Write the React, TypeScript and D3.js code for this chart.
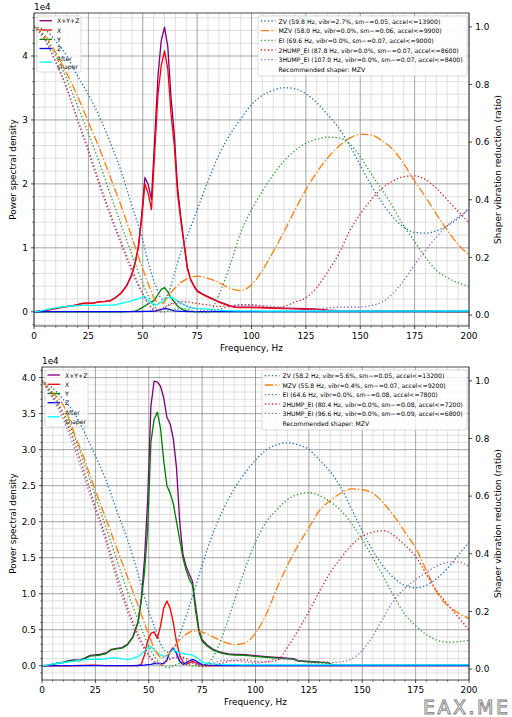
import React from "react";
import * as d3 from "d3";

// ---------- shared ----------
const shaperNames = ["ZV", "MZV", "EI", "2HUMP_EI", "3HUMP_EI"];
const shaperColors = ["#1f77b4", "#ff7f0e", "#2ca02c", "#d62728", "#9467bd"];
const recommendedShaper = "MZV";
const psdLabels = ["X+Y+Z", "X", "Y", "Z", "After\nshaper"];
const psdColors = ["#800080", "#ff0000", "#008000", "#0000ff", "#00ffff"];
const xTicks = [0, 25, 50, 75, 100, 125, 150, 175, 200];
const rightTicks = [0.0, 0.2, 0.4, 0.6, 0.8, 1.0];

const shaperFreqs = [
  0, 5, 10, 15, 20, 25, 30, 35, 40, 45,
  50, 53, 56, 59, 62, 65, 68, 71, 75, 80,
  85, 90, 95, 100, 105, 110, 115, 120, 125, 130,
  135, 140, 145, 150, 155, 160, 165, 170, 175, 180,
  185, 190, 195, 200,
];

// ---------- top chart ----------
const topShaperHz = [59.8, 58.0, 69.6, 87.8, 107.0];
const topVibr = [2.7, 0.0, 0.0, 0.0, 0.0];
const topSmooth = [0.05, 0.06, 0.07, 0.07, 0.07];
const topAccel = [13900, 9900, 9000, 8600, 8400];

const topPsdFreqs = [
  0, 2.5, 5, 7.5, 10, 12.5, 15, 17.5, 20, 22.5,
  25, 27.5, 30, 32.5, 35, 37.5, 40, 42.5, 45, 46.5,
  48, 49.5, 51, 52.5, 54, 55.5, 57, 58.5, 60, 61.5,
  63, 64.5, 66, 67.5, 69, 70.5, 72, 73.5, 75, 77.5,
  80, 82.5, 85, 87.5, 90, 92.5, 95, 97.5, 100, 105,
  110, 115, 120, 125, 130, 135, 140, 150, 160, 170,
  180, 190, 200,
];
const topPsdXYZ = [
  0, 0.012, 0.023, 0.038, 0.053, 0.068, 0.083, 0.093, 0.113, 0.133,
  0.133, 0.138, 0.158, 0.163, 0.173, 0.223, 0.293, 0.403, 0.585, 0.77,
  1.03, 1.51, 2.1, 1.99, 1.76, 2.7, 3.69, 4.24, 4.45, 4.15,
  3.35, 2.77, 1.95, 1.48, 1.08, 0.695, 0.51, 0.41, 0.33, 0.277,
  0.237, 0.197, 0.157, 0.127, 0.097, 0.077, 0.072, 0.072, 0.072, 0.067,
  0.062, 0.057, 0.052, 0.047, 0.042, 0.027, 0.017, 0.015, 0.013, 0.012,
  0.012, 0.011, 0.011,
];
const topPsdX = [
  0, 0.01, 0.02, 0.035, 0.05, 0.065, 0.08, 0.09, 0.11, 0.13,
  0.13, 0.135, 0.155, 0.16, 0.17, 0.22, 0.29, 0.4, 0.58, 0.76,
  1.0, 1.45, 2.0, 1.85, 1.6, 2.5, 3.4, 3.85, 4.08, 3.8,
  3.1, 2.6, 1.85, 1.42, 1.05, 0.68, 0.5, 0.4, 0.32, 0.27,
  0.23, 0.19, 0.15, 0.12, 0.09, 0.07, 0.065, 0.065, 0.065, 0.06,
  0.055, 0.05, 0.045, 0.04, 0.035, 0.02, 0.01, 0.008, 0.006, 0.005,
  0.005, 0.004, 0.004,
];
const topPsdY = [
  0, 0, 0, 0, 0, 0, 0, 0, 0, 0,
  0, 0, 0, 0, 0, 0, 0, 0.002, 0.005, 0.01,
  0.03, 0.06, 0.09, 0.13, 0.15, 0.19, 0.27, 0.35, 0.38, 0.31,
  0.22, 0.15, 0.09, 0.05, 0.025, 0.01, 0.005, 0.003, 0.002, 0.002,
  0.002, 0.002, 0.002, 0.002, 0.002, 0.002, 0.002, 0.002, 0.002, 0.002,
  0.002, 0.002, 0.002, 0.002, 0.002, 0.002, 0.002, 0.002, 0.002, 0.002,
  0.002, 0.002, 0.002,
];
const topPsdZ = [
  0, 0, 0.002, 0.002, 0.002, 0.002, 0.002, 0.002, 0.002, 0.002,
  0.002, 0.002, 0.002, 0.002, 0.002, 0.002, 0.002, 0.002, 0.002, 0.002,
  0.003, 0.004, 0.005, 0.006, 0.008, 0.01, 0.02, 0.035, 0.05, 0.045,
  0.03, 0.015, 0.01, 0.006, 0.005, 0.004, 0.003, 0.003, 0.003, 0.003,
  0.003, 0.003, 0.003, 0.003, 0.003, 0.003, 0.003, 0.003, 0.003, 0.003,
  0.003, 0.003, 0.003, 0.003, 0.003, 0.003, 0.003, 0.003, 0.003, 0.003,
  0.003, 0.003, 0.003,
];
const topPsdAfter = [
  0, 0.01, 0.03, 0.045, 0.06, 0.075, 0.085, 0.09, 0.095, 0.1,
  0.1, 0.1, 0.1, 0.105, 0.105, 0.11, 0.13, 0.15, 0.17, 0.19,
  0.2, 0.22, 0.24, 0.18, 0.13, 0.11, 0.12, 0.15, 0.19, 0.22,
  0.23, 0.2, 0.17, 0.14, 0.11, 0.08, 0.065, 0.055, 0.05, 0.045,
  0.04, 0.03, 0.025, 0.02, 0.018, 0.016, 0.015, 0.014, 0.013, 0.012,
  0.012, 0.012, 0.012, 0.012, 0.012, 0.012, 0.012, 0.012, 0.012, 0.012,
  0.012, 0.012, 0.012,
];

const topZV = [
  1.0, 0.99, 0.95, 0.9, 0.83, 0.765, 0.69, 0.6, 0.5, 0.38,
  0.26, 0.17, 0.1, 0.055, 0.08, 0.155, 0.23, 0.285, 0.365, 0.465,
  0.555, 0.625, 0.68, 0.73, 0.762, 0.78, 0.789, 0.785, 0.768, 0.737,
  0.695, 0.65, 0.59, 0.52, 0.45, 0.39, 0.34, 0.305, 0.287, 0.284,
  0.292, 0.31, 0.335, 0.37,
];
const topMZV = [
  1.0, 0.97, 0.91, 0.84, 0.76, 0.67, 0.58, 0.48, 0.38, 0.27,
  0.16, 0.1, 0.05, 0.04, 0.07, 0.095, 0.115, 0.128, 0.135, 0.127,
  0.113, 0.093, 0.085, 0.105, 0.155, 0.22, 0.29, 0.365, 0.435, 0.495,
  0.545, 0.585, 0.613, 0.628, 0.625, 0.605, 0.575, 0.525, 0.465, 0.41,
  0.35, 0.295, 0.245, 0.209,
];
const topEI = [
  1.0, 0.965, 0.9, 0.82, 0.725, 0.63, 0.53, 0.42, 0.315, 0.21,
  0.11, 0.06, 0.025, 0.01, 0.015, 0.02, 0.022, 0.02, 0.01, 0.008,
  0.07, 0.17, 0.285, 0.365, 0.43, 0.487, 0.535, 0.57, 0.596, 0.61,
  0.617, 0.615, 0.595, 0.55, 0.49, 0.435, 0.375, 0.31, 0.255, 0.2,
  0.155, 0.13, 0.112, 0.1,
];
const top2HUMP = [
  1.0, 0.955, 0.88, 0.79, 0.68, 0.575, 0.46, 0.355, 0.255, 0.16,
  0.075, 0.035, 0.015, 0.02, 0.035, 0.045, 0.047, 0.045, 0.04, 0.035,
  0.03, 0.032, 0.035, 0.035, 0.03, 0.025, 0.03, 0.045, 0.06, 0.095,
  0.15, 0.21, 0.29, 0.35, 0.4, 0.44, 0.465, 0.48, 0.483, 0.47,
  0.44, 0.4, 0.36, 0.32,
];
const top3HUMP = [
  1.0, 0.955, 0.875, 0.785, 0.675, 0.565, 0.45, 0.345, 0.245, 0.15,
  0.07, 0.035, 0.02, 0.025, 0.035, 0.04, 0.038, 0.03, 0.02, 0.015,
  0.02, 0.03, 0.035, 0.035, 0.033, 0.03, 0.025, 0.02, 0.018, 0.02,
  0.025, 0.028, 0.028, 0.028, 0.033, 0.045, 0.075, 0.12, 0.175, 0.225,
  0.27, 0.31, 0.34, 0.365,
];
const topLeftTicks = [0, 1, 2, 3, 4];
const topLeftTickLabels = ["0", "1", "2", "3", "4"];

// ---------- bottom chart ----------
const botShaperHz = [58.2, 55.8, 64.6, 80.4, 96.6];
const botVibr = [5.6, 0.4, 0.0, 0.0, 0.0];
const botSmooth = [0.05, 0.07, 0.08, 0.08, 0.09];
const botAccel = [13200, 9200, 7800, 7200, 6800];

const botPsdFreqs = [
  0, 2.5, 5, 7.5, 10, 12.5, 15, 17.5, 20, 22.5,
  25, 27.5, 30, 32.5, 35, 37.5, 40, 42.5, 45, 46.5,
  48, 49.5, 51, 52.5, 54, 55.5, 57, 58.5, 60, 61.5,
  63, 64.5, 66, 67.5, 69, 70.5, 72, 73.5, 75, 77.5,
  80, 82.5, 85, 87.5, 90, 92.5, 95, 97.5, 100, 105,
  110, 115, 118, 120, 125, 130, 134, 136, 150, 170,
  200,
];
const botPsdXYZ = [
  0, 0.007, 0.023, 0.04, 0.05, 0.07, 0.08, 0.077, 0.107, 0.145,
  0.152, 0.16, 0.177, 0.227, 0.242, 0.252, 0.298, 0.4, 0.61, 0.93,
  1.47, 2.3, 3.6, 3.95, 3.94, 3.88, 3.72, 3.45, 3.36, 3.15,
  2.75, 2.0, 1.55, 1.38, 1.27, 1.17, 0.82, 0.5, 0.36, 0.285,
  0.232, 0.2, 0.18, 0.165, 0.16, 0.157, 0.154, 0.147, 0.14, 0.128,
  0.117, 0.105, 0.1, 0.07, 0.06, 0.05, 0.045, 0.01, 0.008, 0.007,
  0.007,
];
const botPsdX = [
  0, 0, 0, 0, 0, 0, 0.002, 0.004, 0.006, 0.008,
  0.01, 0.006, 0.003, 0.002, 0.002, 0.002, 0.002, 0.002, 0.003, 0.02,
  0.15, 0.35, 0.45, 0.47, 0.38, 0.55, 0.8, 0.9, 0.8, 0.6,
  0.33, 0.15, 0.05, 0.02, 0.04, 0.06, 0.04, 0.02, 0.008, 0.004,
  0.003, 0.003, 0.003, 0.003, 0.003, 0.003, 0.003, 0.003, 0.003, 0.003,
  0.003, 0.003, 0.003, 0.003, 0.003, 0.003, 0.003, 0.003, 0.003, 0.003,
  0.003,
];
const botPsdY = [
  0, 0.005, 0.02, 0.035, 0.045, 0.065, 0.075, 0.07, 0.1, 0.135,
  0.14, 0.15, 0.17, 0.22, 0.235, 0.245, 0.29, 0.39, 0.6, 0.9,
  1.3, 1.9, 3.1, 3.42, 3.52, 3.3, 2.85, 2.5, 2.4, 2.25,
  2.0, 1.75, 1.5, 1.33, 1.2, 1.12, 0.75, 0.47, 0.34, 0.27,
  0.22, 0.19, 0.17, 0.155, 0.15, 0.148, 0.145, 0.138, 0.13, 0.118,
  0.107, 0.095, 0.088, 0.065, 0.056, 0.047, 0.042, 0.008, 0.006, 0.005,
  0.005,
];
const botPsdZ = [
  0, 0, 0.002, 0.002, 0.002, 0.002, 0.002, 0.002, 0.002, 0.002,
  0.002, 0.002, 0.002, 0.002, 0.002, 0.002, 0.002, 0.002, 0.004, 0.006,
  0.01, 0.015, 0.02, 0.03, 0.035, 0.03, 0.03, 0.08, 0.2, 0.25,
  0.17, 0.06, 0.02, 0.04, 0.07, 0.085, 0.07, 0.04, 0.015, 0.008,
  0.004, 0.004, 0.004, 0.004, 0.004, 0.004, 0.004, 0.004, 0.004, 0.004,
  0.004, 0.004, 0.004, 0.004, 0.004, 0.004, 0.004, 0.004, 0.004, 0.004,
  0.004,
];
const botPsdAfter = [
  0, 0.005, 0.025, 0.035, 0.045, 0.055, 0.065, 0.075, 0.085, 0.09,
  0.09, 0.09, 0.1, 0.11, 0.105, 0.095, 0.09, 0.1, 0.13, 0.16,
  0.2, 0.25, 0.27, 0.22, 0.18, 0.15, 0.13, 0.14, 0.18, 0.23,
  0.2, 0.18, 0.17, 0.16, 0.155, 0.15, 0.12, 0.09, 0.05, 0.035,
  0.025, 0.02, 0.018, 0.016, 0.015, 0.014, 0.013, 0.013, 0.012, 0.012,
  0.012, 0.012, 0.012, 0.012, 0.012, 0.012, 0.012, 0.012, 0.012, 0.012,
  0.012,
];

const botZV = [
  1.0, 0.975, 0.935, 0.89, 0.82, 0.74, 0.655, 0.55, 0.45, 0.33,
  0.2, 0.14, 0.08, 0.058, 0.075, 0.13, 0.195, 0.265, 0.36, 0.47,
  0.555, 0.625, 0.68, 0.725, 0.76, 0.778, 0.785, 0.778, 0.762, 0.725,
  0.685, 0.63, 0.555, 0.48, 0.41, 0.355, 0.315, 0.29, 0.282, 0.29,
  0.315, 0.35, 0.395, 0.44,
];
const botMZV = [
  1.0, 0.96, 0.915, 0.82, 0.725, 0.62, 0.52, 0.42, 0.32, 0.22,
  0.12, 0.065, 0.04, 0.05, 0.08, 0.105, 0.123, 0.132, 0.128, 0.112,
  0.095, 0.085, 0.09, 0.125, 0.19, 0.28, 0.36, 0.43, 0.49, 0.55,
  0.585, 0.61, 0.625, 0.622, 0.61, 0.575, 0.53, 0.475, 0.42, 0.343,
  0.265, 0.22, 0.195, 0.175,
];
const botEI = [
  1.0, 0.955, 0.89, 0.81, 0.71, 0.6, 0.49, 0.38, 0.27, 0.17,
  0.08, 0.04, 0.015, 0.005, 0.012, 0.02, 0.018, 0.01, 0.01, 0.04,
  0.125, 0.235, 0.345, 0.44, 0.51, 0.553, 0.588, 0.606, 0.612, 0.602,
  0.58, 0.55, 0.505, 0.45, 0.385, 0.32, 0.25, 0.19, 0.15, 0.12,
  0.1, 0.093, 0.095, 0.1,
];
const bot2HUMP = [
  1.0, 0.945, 0.88, 0.79, 0.68, 0.565, 0.455, 0.33, 0.215, 0.12,
  0.05, 0.025, 0.015, 0.03, 0.04, 0.042, 0.035, 0.02, 0.008, 0.012,
  0.022, 0.03, 0.032, 0.025, 0.025, 0.03, 0.075, 0.135, 0.2, 0.27,
  0.335, 0.385, 0.43, 0.46, 0.475, 0.48, 0.462, 0.43, 0.39, 0.33,
  0.27, 0.225, 0.18, 0.135,
];
const bot3HUMP = [
  1.0, 0.94, 0.865, 0.77, 0.66, 0.55, 0.44, 0.31, 0.2, 0.11,
  0.045, 0.02, 0.02, 0.035, 0.04, 0.038, 0.03, 0.02, 0.015, 0.02,
  0.03, 0.03, 0.025, 0.02, 0.025, 0.035, 0.035, 0.03, 0.022, 0.02,
  0.022, 0.025, 0.035, 0.065, 0.115, 0.18, 0.24, 0.28, 0.31, 0.335,
  0.358, 0.37, 0.372, 0.355,
];
const botLeftTicks = [0, 0.5, 1, 1.5, 2, 2.5, 3, 3.5, 4];
const botLeftTickLabels = ["0.0", "0.5", "1.0", "1.5", "2.0", "2.5", "3.0", "3.5", "4.0"];

// ---------- drawing ----------
const FONT = "'DejaVu Sans', Verdana, sans-serif";
const LW = 1.33;
const TICK_FS = 8.9;
const LEG_FS = 6.15;

function shaperLabel(i: number, hz: number[], vibr: number[], sm: number[], acc: number[]) {
  return `${shaperNames[i]} (${hz[i].toFixed(1)} Hz, vibr=${vibr[i].toFixed(1)}%, sm~=${sm[i].toFixed(2)}, accel<=${acc[i].toFixed(0)})`;
}

type Layout = {
  L: number; R: number; T: number; B: number;
  legL: { x: number; y: number; w: number; h: number; rows: number[]; afterRows: number[] };
  legR: { x: number; y: number; w: number; h: number; rows: number[] };
};

type PanelProps = {
  id: string;
  lay: Layout;
  psdFreqs: number[];
  psd: number[][];
  shaperVals: number[][];
  hz: number[]; vibr: number[]; sm: number[]; acc: number[];
  leftTicks: number[]; leftTickLabels: string[]; minorStep: number;
};

function Panel(p: PanelProps) {
  const { L, R, T, B } = p.lay;
  const x = d3.scaleLinear().domain([0, 200]).range([L, R]);
  const ymax = d3.max(p.psd[0]) as number;
  const yL = d3.scaleLinear().domain([-0.05 * ymax, 1.05 * ymax]).range([B, T]);
  const yR = d3.scaleLinear().domain([-0.038, 1.048]).range([B, T]);
  const [d0, d1] = yL.domain();

  const minorY: number[] = [];
  const kStart = Math.ceil(d0 / p.minorStep - 1e-9);
  const kEnd = Math.floor(d1 / p.minorStep + 1e-9);
  const ratio = Math.round((p.leftTicks[1] - p.leftTicks[0]) / p.minorStep);
  for (let k = kStart; k <= kEnd; k++) {
    if (k % ratio !== 0) minorY.push(k * p.minorStep);
  }
  const minorX = d3.range(0, 201, 5).filter((v) => v % 25 !== 0);

  const psdLine = (vals: number[]) =>
    d3.line<number>().x((_, i) => x(p.psdFreqs[i])).y((v) => yL(v)).curve(d3.curveLinear)(vals) as string;
  const shLine = (vals: number[]) =>
    d3.line<number>().x((_, i) => x(shaperFreqs[i])).y((v) => yR(v)).curve(d3.curveMonotoneX)(vals) as string;

  const gl = 0.71;
  const ll = p.lay.legL;
  const lr = p.lay.legR;
  const leftRightEdge = L - 6.2;

  return (
    <g>
      <defs>
        <clipPath id={`clip-${p.id}`}>
          <rect x={L} y={T} width={R - L} height={B - T} />
        </clipPath>
      </defs>
      {minorX.map((v) => (
        <line key={`mx${v}`} x1={x(v)} x2={x(v)} y1={T} y2={B} stroke="#d3d3d3" strokeWidth={gl} />
      ))}
      {minorY.map((v) => (
        <line key={`my${v}`} x1={L} x2={R} y1={yL(v)} y2={yL(v)} stroke="#d3d3d3" strokeWidth={gl} />
      ))}
      {xTicks.map((v) => (
        <line key={`gx${v}`} x1={x(v)} x2={x(v)} y1={T} y2={B} stroke="#808080" strokeWidth={gl} />
      ))}
      {p.leftTicks.map((v) => (
        <line key={`gy${v}`} x1={L} x2={R} y1={yL(v)} y2={yL(v)} stroke="#808080" strokeWidth={gl} />
      ))}
      <g clipPath={`url(#clip-${p.id})`}>
        {p.psd.map((vals, i) => (
          <path key={`psd${i}`} d={psdLine(vals)} fill="none" stroke={psdColors[i]} strokeWidth={LW}
            strokeLinejoin="round" />
        ))}
      </g>
      <g>
        <rect x={ll.x} y={ll.y} width={ll.w} height={ll.h} rx={1.5} fill="white" fillOpacity={0.8}
          stroke="#cccccc" strokeWidth={0.7} />
        {psdLabels.map((lab, i) => {
          const isAfter = i === 4;
          const hy = isAfter ? (ll.afterRows[0] + ll.afterRows[1]) / 2 : ll.rows[i];
          const lines = lab.split("\n");
          return (
            <g key={`ll${i}`}>
              <line x1={ll.x + 2.5} x2={ll.x + 15} y1={hy} y2={hy} stroke={psdColors[i]} strokeWidth={LW} />
              {lines.map((t, j) => (
                <text key={j} x={ll.x + 20} y={isAfter ? ll.afterRows[j] : ll.rows[i]} fontSize={LEG_FS}
                  fontFamily={FONT} fill="#000" dominantBaseline="central">{t}</text>
              ))}
            </g>
          );
        })}
      </g>
      <g clipPath={`url(#clip-${p.id})`}>
        {p.shaperVals.map((vals, i) => (
          <path key={`sh${i}`} d={shLine(vals)} fill="none" stroke={shaperColors[i]} strokeWidth={LW}
            strokeDasharray={shaperNames[i] === recommendedShaper ? "8.5,2.1,1.33,2.1" : "1.33,2.2"} />
        ))}
      </g>
      <rect x={L} y={T} width={R - L} height={B - T} fill="none" stroke="#000" strokeWidth={0.71} />
      {xTicks.map((v) => (
        <g key={`xt${v}`}>
          <line x1={x(v)} x2={x(v)} y1={B} y2={B + 3.1} stroke="#000" strokeWidth={0.71} />
          <text x={x(v)} y={B + 12.6} fontSize={TICK_FS} fontFamily={FONT} textAnchor="middle" fill="#000">{v}</text>
        </g>
      ))}
      {minorX.map((v) => (
        <line key={`xm${v}`} x1={x(v)} x2={x(v)} y1={B} y2={B + 1.8} stroke="#000" strokeWidth={0.5} />
      ))}
      <text x={(L + R) / 2} y={B + 25} fontSize={TICK_FS} fontFamily={FONT} textAnchor="middle" fill="#000">
        Frequency, Hz
      </text>
      {p.leftTicks.map((v, i) => (
        <g key={`yt${v}`}>
          <line x1={L - 3.1} x2={L} y1={yL(v)} y2={yL(v)} stroke="#000" strokeWidth={0.71} />
          <text x={leftRightEdge} y={yL(v)} dy="0.35em" fontSize={TICK_FS} fontFamily={FONT} textAnchor="end" fill="#000">
            {p.leftTickLabels[i]}
          </text>
        </g>
      ))}
      {minorY.map((v) => (
        <line key={`ym${v}`} x1={L - 1.8} x2={L} y1={yL(v)} y2={yL(v)} stroke="#000" strokeWidth={0.5} />
      ))}
      <text x={L} y={T - 3.5} fontSize={TICK_FS} fontFamily={FONT} fill="#000">1e4</text>
      <text transform={`translate(15.8,${(T + B) / 2}) rotate(-90)`} fontSize={TICK_FS} fontFamily={FONT}
        textAnchor="middle" fill="#000">Power spectral density</text>
      {rightTicks.map((v) => (
        <g key={`rt${v}`}>
          <line x1={R} x2={R + 3.1} y1={yR(v)} y2={yR(v)} stroke="#000" strokeWidth={0.71} />
          <text x={R + 6.2} y={yR(v)} dy="0.35em" fontSize={TICK_FS} fontFamily={FONT} fill="#000">
            {v.toFixed(1)}
          </text>
        </g>
      ))}
      <text transform={`translate(500.8,${(T + B) / 2}) rotate(-90)`} fontSize={TICK_FS} fontFamily={FONT}
        textAnchor="middle" fill="#000">Shaper vibration reduction (ratio)</text>
      <g>
        <rect x={lr.x} y={lr.y} width={lr.w} height={lr.h} rx={1.5} fill="white" fillOpacity={0.8}
          stroke="#cccccc" strokeWidth={0.7} />
        {shaperNames.map((n, i) => (
          <g key={`lr${i}`}>
            <line x1={lr.x + 2.8} x2={lr.x + 17.5} y1={lr.rows[i]} y2={lr.rows[i]} stroke={shaperColors[i]}
              strokeWidth={LW} strokeDasharray={n === recommendedShaper ? "8.5,2.1,1.33,2.1" : "1.33,2.2"} />
            <text x={lr.x + 20.5} y={lr.rows[i]} fontSize={LEG_FS} fontFamily={FONT} fill="#000"
              dominantBaseline="central">{shaperLabel(i, p.hz, p.vibr, p.sm, p.acc)}</text>
          </g>
        ))}
        <text x={lr.x + 20.5} y={lr.rows[5]} fontSize={LEG_FS} fontFamily={FONT} fill="#000"
          dominantBaseline="central">{`Recommended shaper: ${recommendedShaper}`}</text>
      </g>
    </g>
  );
}

const topLayout: Layout = {
  L: 34, R: 469, T: 13, B: 326,
  legL: { x: 37, y: 16, w: 44, h: 56, rows: [20.7, 30, 39.4, 48.5], afterRows: [58.3, 66] },
  legR: { x: 258, y: 16, w: 209, h: 60, rows: [21, 30.7, 40.3, 50, 59.7, 69.3] },
};
const botLayout: Layout = {
  L: 42, R: 469, T: 367, B: 680,
  legL: { x: 45, y: 370, w: 43, h: 57, rows: [375, 384.3, 393.5, 402.7], afterRows: [412.7, 421] },
  legR: { x: 262, y: 370, w: 205, h: 60, rows: [375.7, 385, 394.7, 404, 413.3, 423.3] },
};

export default function App() {
  return (
    <svg width={512} height={717} viewBox="0 0 512 717"
      style={{ position: "absolute", left: 0, top: 0, background: "#fff" }}>
      <rect x={0} y={0} width={512} height={717} fill="#fff" />
      <Panel id="top" lay={topLayout} psdFreqs={topPsdFreqs}
        psd={[topPsdXYZ, topPsdX, topPsdY, topPsdZ, topPsdAfter]}
        shaperVals={[topZV, topMZV, topEI, top2HUMP, top3HUMP]}
        hz={topShaperHz} vibr={topVibr} sm={topSmooth} acc={topAccel}
        leftTicks={topLeftTicks} leftTickLabels={topLeftTickLabels} minorStep={0.2} />
      <Panel id="bot" lay={botLayout} psdFreqs={botPsdFreqs}
        psd={[botPsdXYZ, botPsdX, botPsdY, botPsdZ, botPsdAfter]}
        shaperVals={[botZV, botMZV, botEI, bot2HUMP, bot3HUMP]}
        hz={botShaperHz} vibr={botVibr} sm={botSmooth} acc={botAccel}
        leftTicks={botLeftTicks} leftTickLabels={botLeftTickLabels} minorStep={0.1} />
      <text x={423} y={713.5} fontSize={19} fontFamily={FONT} fill="#fff" stroke="#808080" strokeWidth={0.9}
        textLength={85} lengthAdjust="spacing">EAX.ME</text>
    </svg>
  );
}
